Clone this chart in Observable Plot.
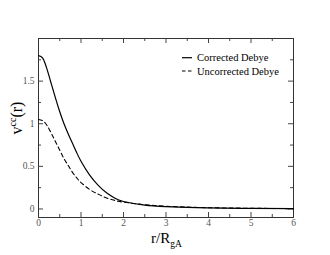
<!DOCTYPE html>
<html><head><meta charset="utf-8">
<script src="https://cdn.jsdelivr.net/npm/d3@7"></script>
<script src="https://cdn.jsdelivr.net/npm/@observablehq/plot@0.6"></script>
<style>body{margin:0;background:#fff} svg{display:block}</style>
</head><body><div id="chart"></div>
<script>
// Data
const r = [0, 0.1, 0.2, 0.3, 0.4, 0.5, 0.6, 0.7, 0.8, 0.9, 1.0, 1.2, 1.4, 1.6, 1.8, 2.0, 2.5, 3.0, 3.5, 4.0, 5.0, 6.0];
const corrected = [1.80, 1.77, 1.64, 1.47, 1.30, 1.14, 1.00, 0.88, 0.77, 0.66, 0.56, 0.40, 0.28, 0.19, 0.125, 0.088, 0.046, 0.028, 0.018, 0.012, 0.006, 0.003];
const uncorrected = [1.05, 1.035, 0.98, 0.89, 0.79, 0.69, 0.59, 0.51, 0.43, 0.365, 0.31, 0.23, 0.175, 0.13, 0.10, 0.08, 0.05, 0.032, 0.022, 0.015, 0.008, 0.004];
const seriesNames = ["Corrected Debye", "Uncorrected Debye"];
const xMajor = [0, 1, 2, 3, 4, 5, 6];
const xMinor = [0.5, 1.5, 2.5, 3.5, 4.5, 5.5];
const yMajor = [0, 0.5, 1, 1.5];
const yMinor = [0.25, 0.75, 1.25, 1.75];
const yLabels = ["0", "0.5", "1", "1.5"];

const W = 330, H = 255, mL = 38, mR = 37, mT = 38, mB = 38;
const fw = W - mL - mR, fh = H - mT - mB;
const dataC = r.map((x, i) => ({r: x, v: corrected[i]}));
const dataU = r.map((x, i) => ({r: x, v: uncorrected[i]}));
const font = "'Liberation Serif', 'Times New Roman', Times, serif";
const tickCol = "#444";
const lblCol = "#555";
const tx = (t, len, side) => Plot.tickX(t, {x: d => d, stroke: tickCol, strokeWidth: 1,
  ...(side === "bottom" ? {insetTop: fh - len} : {insetBottom: fh - len})});
const ty = (t, len, side) => Plot.tickY(t, {y: d => d, stroke: tickCol, strokeWidth: 1,
  ...(side === "left" ? {insetRight: fw - len} : {insetLeft: fw - len})});

const svg = Plot.plot({
  width: W, height: H,
  marginLeft: mL, marginRight: mR, marginTop: mT, marginBottom: mB,
  style: {fontFamily: font, background: "#fff", color: "#000"},
  x: {domain: [0, 6], axis: null},
  y: {domain: [-0.1, 2], axis: null},
  marks: [
    // inward ticks on all four sides
    tx(xMajor, 5, "bottom"), tx(xMinor, 3, "bottom"),
    tx(xMajor, 5, "top"), tx(xMinor, 3, "top"),
    ty(yMajor, 5, "left"), ty(yMinor, 3, "left"),
    ty(yMajor, 5, "right"), ty(yMinor, 3, "right"),
    // tick labels
    Plot.axisX({anchor: "bottom", ticks: xMajor, tickSize: 0, tickPadding: 2, tickFormat: d3.format("d"), label: null, fontSize: 9.5, fontFamily: font, fill: lblCol}),
    Plot.axisY({anchor: "left", ticks: yMajor, tickSize: 0, tickPadding: 4, tickFormat: (d, i) => yLabels[i], label: null, fontSize: 9.5, fontFamily: font, fill: lblCol}),
    Plot.frame({stroke: "#333", strokeWidth: 1}),
    Plot.line(dataU, {x: "r", y: "v", curve: "natural", stroke: "#000", strokeWidth: 1.1, strokeDasharray: "4,3"}),
    Plot.line(dataC, {x: "r", y: "v", curve: "natural", stroke: "#000", strokeWidth: 1.2})
  ]
});

const s = d3.select(svg);
// legend
const leg = s.append("g").style("font-family", font).style("font-size", "10.5px").attr("fill", "#000");
[[57.7, null], [71, "4,3"]].forEach(([y, dash], i) => {
  const l = leg.append("line").attr("x1", 182).attr("x2", 192).attr("y1", y).attr("y2", y)
    .attr("stroke", "#000").attr("stroke-width", 1.2);
  if (dash) l.attr("stroke-dasharray", "3.5,2.5");
  leg.append("text").attr("x", 197).attr("y", y + 3.6).style("text-anchor", "start").text(seriesNames[i]);
});
// x label r/R_gA
const xl = s.append("text").style("font-family", font).style("font-size", "15px").attr("fill", "#000")
  .style("text-anchor", "start").attr("x", 151).attr("y", 243);
xl.append("tspan").text("r/R");
xl.append("tspan").style("font-size", "9.5px").attr("dy", 4).text("gA");
// y label v^cc(r)
const yl = s.append("text").style("font-family", font).style("font-size", "16px").attr("fill", "#000")
  .style("text-anchor", "middle").attr("transform", "translate(21.5,118) rotate(-90)");
yl.append("tspan").text("v");
yl.append("tspan").style("font-size", "10px").attr("dy", -6).text("cc");
yl.append("tspan").attr("dy", 6).text("(r)");

document.getElementById("chart").appendChild(svg);
</script>
</body></html>
